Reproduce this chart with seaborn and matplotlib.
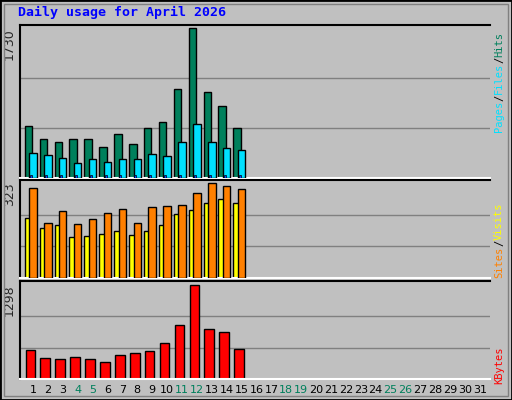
import matplotlib
matplotlib.use("Agg")
import matplotlib.pyplot as plt
import seaborn as sns
import numpy as np

sns.set_style("white")

# Werte
days = np.arange(1, 16)
hits = [600, 447, 412, 447, 447, 353, 506, 388, 577, 647, 1024, 1730, 989, 836, 577]
files = [294, 271, 235, 177, 224, 188, 224, 224, 282, 259, 412, 624, 412, 341, 318]
pages = [30, 30, 30, 30, 30, 30, 30, 30, 30, 30, 30, 30, 30, 30, 30]
visits = [305, 186, 228, 183, 200, 221, 235, 186, 242, 246, 249, 288, 323, 312, 302]
sites = [204, 169, 179, 140, 144, 151, 161, 147, 161, 179, 218, 232, 253, 267, 256]
kbytes = [403, 289, 275, 303, 275, 232, 332, 360, 388, 502, 744, 1298, 687, 644, 417]
weekends = [4, 5, 11, 12, 18, 19, 25, 26]

W, H = 512, 400
fig = plt.figure(figsize=(W / 100, H / 100), dpi=100, facecolor="#c0c0c0")
# Rahmen
fig.patches.append(plt.Rectangle((0, 0), 1, 1, transform=fig.transFigure, fill=False,
                                 edgecolor="black", lw=2))
fig.patches.append(plt.Rectangle((4 / W, 4 / H), 1 - 8 / W, 1 - 8 / H, transform=fig.transFigure,
                                 fill=False, edgecolor="#808080", lw=1))

def mkax(top, bottom):
    ax = fig.add_axes([20 / W, 1 - bottom / H, 470 / W, (bottom - top) / H])
    ax.set_facecolor("#c0c0c0")
    ax.set_xlim(0.13, 31.67)
    for s in ["left", "top"]:
        ax.spines[s].set_color("black")
        ax.spines[s].set_linewidth(1.5)
    ax.spines["right"].set_visible(False)
    ax.spines["bottom"].set_color("white")
    ax.spines["bottom"].set_linewidth(1.5)
    ax.set_xticks([])
    return ax

ec = dict(edgecolor="black", linewidth=1)

ax1 = mkax(25, 178)
ax1.set_ylim(0, 1730 * 1.02)
for g in [1730 / 3, 1730 * 2 / 3]:
    ax1.axhline(g, color="#808080", lw=1, zorder=0)
ax1.bar(days - 0.3, hits, width=0.5, color="#00805c", zorder=2, **ec)
ax1.bar(days + 0.0, files, width=0.5, color="#00e0ff", zorder=3, **ec)
ax1.bar(days - 0.13, pages, width=0.13, color="#0040ff", zorder=4, edgecolor="black", linewidth=0.5)
ax1.set_yticks([1730])
ax1.set_yticklabels(["1730"], rotation=90, va="top", fontsize=9)
ax1.tick_params(axis="y", length=0, pad=3)

ax2 = mkax(180, 278)
ax2.set_ylim(0, 323 * 1.03)
for g in [323 / 3, 323 * 2 / 3]:
    ax2.axhline(g, color="#808080", lw=1, zorder=0)
ax2.bar(days - 0.3, sites, width=0.5, color="#ffff00", zorder=2, **ec)
ax2.bar(days + 0.0, visits, width=0.5, color="#ff8000", zorder=3, **ec)
ax2.set_yticks([323])
ax2.set_yticklabels(["323"], rotation=90, va="top", fontsize=9)
ax2.tick_params(axis="y", length=0, pad=3)

ax3 = mkax(281, 379)
ax3.set_ylim(0, 1298 * 1.04)
for g in [1298 / 3, 1298 * 2 / 3]:
    ax3.axhline(g, color="#808080", lw=1, zorder=0)
ax3.bar(days - 0.17, kbytes, width=0.65, color="#ff0000", zorder=2, **ec)
ax3.set_yticks([1298])
ax3.set_yticklabels(["1298"], rotation=90, va="top", fontsize=9)
ax3.tick_params(axis="y", length=0, pad=3)
ax3.set_xticks(range(1, 32))
ax3.set_xticklabels([str(d) for d in range(1, 32)], fontsize=8)
ax3.tick_params(axis="x", length=0, pad=4)
for lbl, d in zip(ax3.get_xticklabels(), range(1, 32)):
    lbl.set_color("#00805c" if d in weekends else "black")

fig.text(18 / W, 1 - 12 / H, "Daily usage for April 2026", color="#0000ff",
         family="DejaVu Sans Mono", weight="bold", fontsize=9.5, va="center")

def side(parts, ycenter, fs=7.5):
    # rechte Beschriftung, von unten nach oben
    total = sum(len(t) for t, _ in parts)
    ch = 0.602 * fs * 100 / 72
    y = ycenter - total * ch / 2
    for t, c in parts:
        fig.text(499 / W, 1 - y / H, t, color=c, rotation=90, family="DejaVu Sans Mono",
                 fontsize=fs, ha="center", va="top")
        y += len(t) * ch

side([("Pages", "#00e0ff"), ("/", "black"), ("Files", "#00e0ff"), ("/", "black"), ("Hits", "#00805c")][::-1], 82)
side([("Sites", "#ff8000"), ("/", "black"), ("Visits", "#ffff00")][::-1], 240)
side([("KBytes", "#ff0000")], 365)

fig.savefig("out.png", dpi=100, facecolor=fig.get_facecolor())
